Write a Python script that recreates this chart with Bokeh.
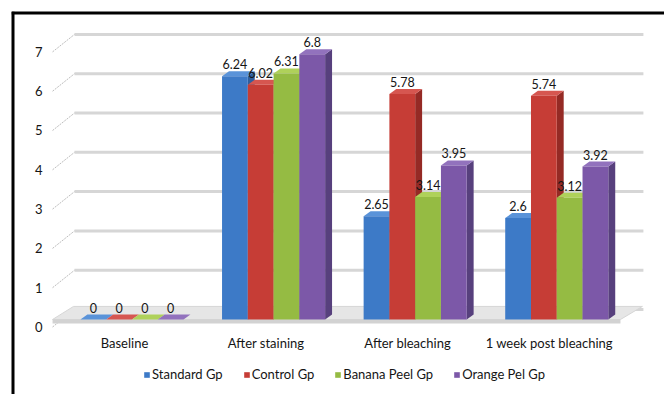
from bokeh.plotting import figure
from bokeh.models import Range1d, Legend, LegendItem
from bokeh.core.properties import value
from bokeh.embed import file_html
from bokeh.resources import INLINE

# ---------------- data ----------------
categories = ["Baseline", "After staining", "After bleaching", "1 week post bleaching"]
series_names = ["Standard Gp", "Control Gp", "Banana Peel Gp", "Orange Pel Gp"]
standard_gp = [0, 6.24, 2.65, 2.6]
control_gp = [0, 6.02, 5.78, 5.74]
banana_gp = [0, 6.31, 3.14, 3.12]
orange_gp = [0, 6.8, 3.95, 3.92]
y_ticks = [0, 1, 2, 3, 4, 5, 6, 7]

series_values = [standard_gp, control_gp, banana_gp, orange_gp]

# ---------------- style ----------------
FONT = "Lato"
TXT = "#151515"
front_colors = ["#3D7AC7", "#C63D36", "#95BB43", "#7C58A8"]
top_colors = ["#5A93D9", "#D65650", "#AFD15A", "#9272BD"]
side_colors = ["#2F5F9E", "#952A25", "#739430", "#57407D"]

BAR_W = 0.182          # bar width (x units)
SHIFT = 0.053          # perspective shift of the bar groups
DX, DY = 0.049, 0.128  # depth of the 3D faces
WALL_DY = 0.445        # back-wall offset of gridlines (axis units)
WALL_X0, WALL_X1 = -0.353, 3.665
STUB_X0 = -0.508
YLAB_X = -0.579        # x of the value-axis labels
XLAB_Y = -0.615        # y of the category labels

x_range = Range1d(-0.798, 3.814)
y_range = Range1d(-1.923, 7.897)

p = figure(width=664, height=394, output_backend="svg", toolbar_location=None,
           x_range=x_range, y_range=y_range,
           x_axis_location=None, y_axis_location=None,
           min_border_left=11, min_border_right=0, min_border_top=11,
           min_border_bottom=0)
p.extra_y_ranges = {"axis": Range1d(-1.7176, 8.028)}
p.outline_line_color = None
p.xgrid.visible = False
p.ygrid.visible = False
p.background_fill_color = "white"
p.border_fill_color = "white"

# outer black frame (left and top edges; half of the line is clipped)
p.segment(x0=[x_range.start, x_range.start], y0=[y_range.start, y_range.end],
          x1=[x_range.start, x_range.end], y1=[y_range.end, y_range.end],
          line_color="black", line_width=6)

# back-wall gridlines and diagonal stubs
p.segment(x0=[WALL_X0] * len(y_ticks), y0=[t + WALL_DY for t in y_ticks],
          x1=[WALL_X1] * len(y_ticks), y1=[t + WALL_DY for t in y_ticks],
          y_range_name="axis", line_color="#D6D6D6", line_width=3)
p.segment(x0=[STUB_X0] * len(y_ticks), y0=y_ticks,
          x1=[WALL_X0] * len(y_ticks), y1=[t + WALL_DY for t in y_ticks],
          y_range_name="axis", line_color="#BDBDBD", line_width=1, line_dash="2 1")

# value-axis labels
p.text(x=[YLAB_X] * len(y_ticks), y=y_ticks, text=[str(t) for t in y_ticks],
       y_range_name="axis", text_align="right", text_baseline="middle",
       text_font=value(FONT), text_font_size="13px", text_color=TXT)

# category labels
p.text(x=list(range(len(categories))), y=[XLAB_Y] * len(categories),
       text=categories, text_align="center", text_baseline="middle",
       text_font=value(FONT), text_font_size="13px", text_color=TXT)

# floor slab
p.patch(x=[-0.508, 3.503, 3.658, -0.36], y=[0, 0, 0.335, 0.335],
        fill_color="#E6E6E6", line_color="#D6D6D6", line_width=1)
p.patch(x=[-0.508, 3.503, 3.503, -0.508], y=[0, 0, -0.103, -0.103],
        fill_color="#D2D2D2", line_color=None)

# bars (side, top, front)
n = len(series_values)
front_renderers = []
label_x, label_y, label_t = [], [], []
for j, vals in enumerate(series_values):
    off = (j - (n - 1) / 2) * BAR_W
    xc = [i + SHIFT + off for i in range(len(categories))]
    x0 = [x - BAR_W / 2 for x in xc]
    x1 = [x + BAR_W / 2 for x in xc]
    side_xs = [[b, b + DX, b + DX, b] for b in x1]
    side_ys = [[0, DY, v + DY, v] for v in vals]
    top_xs = [[a, b, b + DX, a + DX] for a, b in zip(x0, x1)]
    top_ys = [[v, v, v + DY, v + DY] for v in vals]
    p.patches(xs=side_xs, ys=side_ys, fill_color=side_colors[j], line_color=None)
    p.patches(xs=top_xs, ys=top_ys, fill_color=top_colors[j], line_color=None)
    r = p.vbar(x=xc, top=vals, bottom=0, width=BAR_W,
               fill_color=front_colors[j], line_color=None)
    front_renderers.append(r)
    label_x += xc
    label_y += [v + DY for v in vals]
    label_t += [f"{v:g}" for v in vals]

p.text(x=label_x, y=label_y, text=label_t, text_align="center",
       text_baseline="bottom", y_offset=-2, text_font=value(FONT),
       text_font_size="12.5px", text_color=TXT)

legend = Legend(items=[LegendItem(label=nm, renderers=[r])
                       for nm, r in zip(series_names, front_renderers)],
                location=(132, 12), orientation="horizontal",
                glyph_width=7, glyph_height=7, label_standoff=2, spacing=20,
                padding=0, margin=0, border_line_color=None,
                background_fill_alpha=0, label_text_font=FONT,
                label_text_font_size="13px", label_text_color=TXT,
                label_height=13)
p.add_layout(legend)

open("out.html", "w").write(file_html(p, INLINE))
